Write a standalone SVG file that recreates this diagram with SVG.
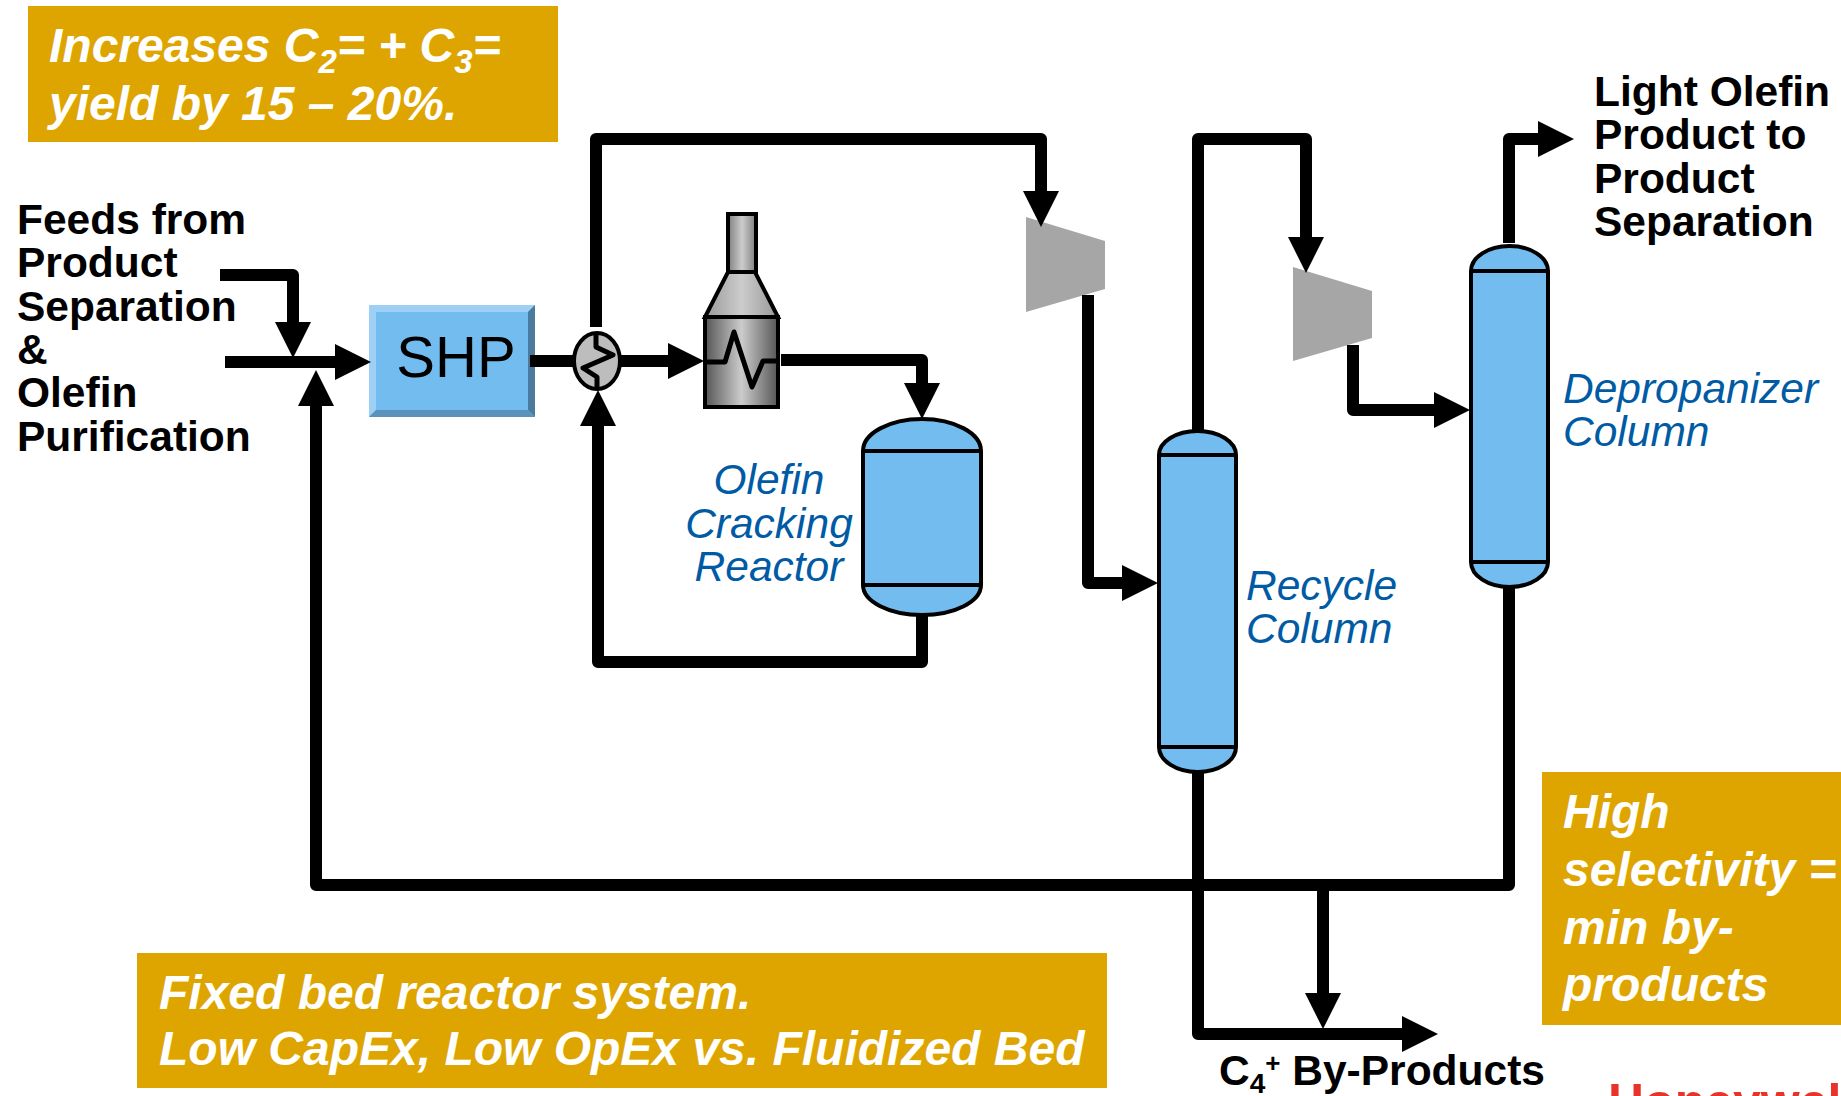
<svg xmlns="http://www.w3.org/2000/svg" width="1841" height="1096" viewBox="0 0 1841 1096">
<style>
text{font-family:"Liberation Sans",Arial,sans-serif}
.k{font-size:42.5px;font-weight:700;fill:#000}
.b{font-size:42.5px;font-style:italic;fill:#005ba4}
.w{font-size:48px;font-style:italic;font-weight:700;fill:#fff}
.box{fill:#dea500}
.c{fill:#72bcef;stroke:#000;stroke-width:4}
.comp{fill:#a6a6a6}
.con{fill:none;stroke:#000;stroke-width:12;stroke-linejoin:round}
.thin{fill:none;stroke:#000;stroke-width:4;stroke-linejoin:round}
.zig{fill:none;stroke:#000;stroke-width:5;stroke-linejoin:round}
.sub{font-size:33px}
</style>
<defs>
<marker id="ah" viewBox="0 0 36 36" markerWidth="36" markerHeight="36" markerUnits="userSpaceOnUse" refX="0" refY="18" orient="auto"><path d="M0,0L36,18L0,36Z" fill="#000"/></marker>
<linearGradient id="g"><stop offset="0" stop-color="#555"/><stop offset=".5" stop-color="#ccc"/><stop offset="1" stop-color="#555"/></linearGradient>
<linearGradient id="g1"><stop offset="0" stop-color="#808080"/><stop offset=".5" stop-color="#ccc"/><stop offset="1" stop-color="#808080"/></linearGradient>
<linearGradient id="g2"><stop offset="0" stop-color="#999"/><stop offset=".5" stop-color="#ccc"/><stop offset="1" stop-color="#999"/></linearGradient>
</defs>

<g id="note-yield"><rect class="box" x="28" y="6" width="530" height="136"/>
<text class="w" x="49" y="62">Increases C<tspan class="sub" dy="11">2</tspan><tspan dy="-11">= + C</tspan><tspan class="sub" dy="11">3</tspan><tspan dy="-11">=</tspan></text>
<text class="w" x="49" y="120">yield by 15 – 20%.</text></g>
<g id="note-fixed"><rect class="box" x="137" y="953" width="970" height="135"/>
<text class="w" x="159" y="1009">Fixed bed reactor system.</text>
<text class="w" x="159" y="1065">Low CapEx, Low OpEx vs. Fluidized Bed</text></g>
<g id="note-selectivity"><rect class="box" x="1542" y="772" width="299" height="253"/>
<text class="w" x="1563" y="828">High</text>
<text class="w" x="1563" y="886">selectivity =</text>
<text class="w" x="1563" y="944">min by-</text>
<text class="w" x="1563" y="1001">products</text></g>

<g id="feeds"><text class="k" x="17" y="234">Feeds from</text><text class="k" x="17" y="277">Product</text><text class="k" x="17" y="321">Separation</text><text class="k" x="17" y="364">&amp;</text><text class="k" x="17" y="407">Olefin</text><text class="k" x="17" y="451">Purification</text></g>

<g id="shp">
<rect x="369" y="305" width="166" height="112" fill="#72bcef"/>
<path d="M369,305H535L528,312H376V410L369,417Z" fill="#9dd0f4"/>
<path d="M535,305V417L528,410V312Z" fill="#4a7a9e"/>
<path d="M369,417H535L528,410H376Z" fill="#5b92bb"/>
<text x="456" y="377" font-size="58" text-anchor="middle" fill="#000">SHP</text>
</g>

<g id="exchanger"><ellipse cx="597" cy="361" rx="23" ry="28" fill="#bdbdbd" stroke="#000" stroke-width="4"/>
<path class="zig" d="M596,333V347L613,355L583,368L597,377V390"/></g>

<g id="heater">
<rect x="728" y="214" width="28" height="58" fill="url(#g1)" stroke="#000" stroke-width="4"/>
<path d="M728,272H755L778,317H705Z" fill="url(#g2)" stroke="#000" stroke-width="4"/>
<rect x="705" y="317" width="73" height="90" fill="url(#g)" stroke="#000" stroke-width="4"/>
<path class="zig" d="M705,362H725L734,332L752,387L763,361H778"/>
</g>

<g id="reactor">
<path class="c" d="M863,451A59,32 0 0 1 981,451V585A59,30 0 0 1 863,585Z"/>
<path class="thin" d="M863,451H981M863,585H981"/>
<text class="b" x="769" y="494" text-anchor="middle">Olefin</text><text class="b" x="769" y="538" text-anchor="middle">Cracking</text><text class="b" x="769" y="581" text-anchor="middle">Reactor</text>
</g>

<g id="compressor-1"><path class="comp" d="M1026,217L1105,241V289L1026,312Z"/></g>
<g id="compressor-2"><path class="comp" d="M1293,267L1372,291V338L1293,361Z"/></g>

<g id="recycle-column">
<path class="c" d="M1159,455A38.5,24 0 0 1 1236,455V747A38.5,25 0 0 1 1159,747Z"/>
<path class="thin" d="M1159,455H1236M1159,747H1236"/>
<text class="b" x="1246" y="600">Recycle</text><text class="b" x="1246" y="643">Column</text>
</g>
<g id="depropanizer-column">
<path class="c" d="M1471,271A38.5,25 0 0 1 1548,271V562A38.5,25 0 0 1 1471,562Z"/>
<path class="thin" d="M1471,271H1548M1471,562H1548"/>
<text class="b" x="1563" y="403">Depropanizer</text><text class="b" x="1563" y="446">Column</text>
</g>

<g id="product"><text class="k" x="1594" y="106">Light Olefin</text><text class="k" x="1594" y="149">Product to</text><text class="k" x="1594" y="193">Product</text><text class="k" x="1594" y="236">Separation</text></g>
<text class="k" id="byproducts" x="1219" y="1085">C<tspan font-size="28" dy="8">4</tspan><tspan font-size="26" dy="-21">+</tspan><tspan dy="13"> By-Products</tspan></text>
<text id="logo" x="1608" y="1119" font-size="50" font-weight="700" fill="#e8332a">Honeywell</text>

<g id="connectors">
<path class="con" marker-end="url(#ah)" d="M220,275H293V322"/>
<path class="con" marker-end="url(#ah)" d="M225,362H335"/>
<path class="con" marker-end="url(#ah)" d="M1509,587V885H316V406"/>
<path class="con" d="M530,361H575"/>
<path class="con" marker-end="url(#ah)" d="M621,361H668"/>
<path class="con" marker-end="url(#ah)" d="M781,360H922V383"/>
<path class="con" marker-end="url(#ah)" d="M922,615V662H598V426"/>
<path class="con" marker-end="url(#ah)" d="M596,327V139H1041V191"/>
<path class="con" marker-end="url(#ah)" d="M1088,295V583H1122"/>
<path class="con" marker-end="url(#ah)" d="M1198,431V139H1306V237"/>
<path class="con" marker-end="url(#ah)" d="M1353,345V410H1434"/>
<path class="con" marker-end="url(#ah)" d="M1509,243V139H1538"/>
<path class="con" marker-end="url(#ah)" d="M1198,773V1034H1402"/>
<path class="con" marker-end="url(#ah)" d="M1323,885V993"/>
</g>
</svg>
